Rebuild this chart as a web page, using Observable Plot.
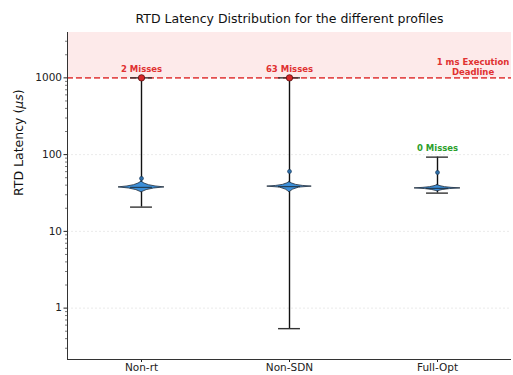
<!DOCTYPE html>
<html>
<head>
<meta charset="utf-8">
<script src="https://cdn.jsdelivr.net/npm/d3@7"></script>
<script src="https://cdn.jsdelivr.net/npm/@observablehq/plot@0.6"></script>
<style>
  html, body { margin: 0; padding: 0; background: white; }
</style>
</head>
<body>
<div id="chart"></div>
<script>
const title = "RTD Latency Distribution for the different profiles";
const yLabel = "RTD Latency (μs)";
const categories = ["Non-rt", "Non-SDN", "Full-Opt"];
const minVals = [20.7, 0.54, 31.5];
const maxVals = [1000, 1000, 92.7];
const meanVals = [49, 60.4, 58.6];
const medianVals = [37.4, 38.3, 36.3];
const misses = [2, 63, 0];
const deadline = 1000;
const deadlineLabel = "1 ms Execution\nDeadline";
const yTicks = [1, 10, 100, 1000];
const yDomain = [0.214, 3900];
const xDomain = [-0.5, 2.5];
// violin profiles: latency values and half-widths (category units)
const violinVals = [
  [44.5, 42, 40, 38.5, 37.4, 36.2, 34.5, 33, 32.2],
  [43.8, 42, 40.3, 39.1, 38.3, 37.2, 35, 33.2, 32.2],
  [40, 38.8, 37.7, 36.9, 36.3, 35.6, 34.6, 33.7, 33.1]
];
const violinWidths = [
  [0, 0.02, 0.05, 0.095, 0.155, 0.085, 0.035, 0.012, 0],
  [0, 0.018, 0.045, 0.09, 0.15, 0.065, 0.025, 0.008, 0],
  [0, 0.02, 0.05, 0.095, 0.155, 0.085, 0.035, 0.012, 0]
];

const capHalf = 0.074;
const idx = categories.map((c, i) => i);
const violinData = idx.flatMap(i => violinVals[i].map((v, j) => ({i, v, w: violinWidths[i][j]})));
const minor = [];
for (let e = -1; e <= 3; e++) for (let m = 2; m <= 9; m++) {
  const v = m * Math.pow(10, e);
  if (v >= yDomain[0] && v <= yDomain[1]) minor.push(v);
}

const red = "#e03131";
const chart = Plot.plot({
  width: 513,
  height: 375,
  marginLeft: 67,
  marginRight: 2,
  marginTop: 32,
  marginBottom: 16,
  style: {fontFamily: "DejaVu Sans", fontSize: "10.5px", color: "#222", background: "white"},
  x: {type: "linear", domain: xDomain},
  y: {type: "log", domain: yDomain},
  marks: [
    Plot.rect([0], {x1: xDomain[0], x2: xDomain[1], y1: deadline, y2: yDomain[1], fill: "#fdeaea"}),
    Plot.ruleY(yTicks, {stroke: "#e4e4e4", strokeWidth: 0.8, strokeDasharray: "2,2"}),
    Plot.ruleY([deadline], {stroke: red, strokeOpacity: 0.85, strokeWidth: 1.6, strokeDasharray: "6,3"}),
    Plot.ruleX(idx, {x: i => i, y1: i => minVals[i], y2: i => maxVals[i], stroke: "#111", strokeWidth: 1.4}),
    Plot.areaX(violinData, {y: "v", x1: d => d.i - d.w, x2: d => d.i + d.w, z: "i", fill: "#3d8fd8", stroke: "#1d2a38", strokeWidth: 0.8, curve: "linear"}),
    Plot.ruleY(idx, {y: i => medianVals[i], x1: i => i - capHalf, x2: i => i + capHalf, stroke: "#1a2a3a", strokeWidth: 1.2, strokeOpacity: 0.8}),
    Plot.ruleY(idx, {y: i => minVals[i], x1: i => i - capHalf, x2: i => i + capHalf, stroke: "#333", strokeWidth: 1.4}),
    Plot.ruleY(idx, {y: i => maxVals[i], x1: i => i - capHalf, x2: i => i + capHalf, stroke: "#333", strokeWidth: 1.4}),
    Plot.dot(idx, {x: i => i, y: i => meanVals[i], r: 2, fill: "#2f6fa8", stroke: "#1d3b5c", strokeWidth: 0.6}),
    Plot.dot(idx.filter(i => maxVals[i] >= deadline), {x: i => i, y: i => maxVals[i], r: 3.2, fill: "#d62728", stroke: "#5a0d0d", strokeWidth: 0.8}),
    Plot.text(idx, {x: i => i, y: i => maxVals[i], text: i => `${misses[i]} Misses`, dy: -9, fontSize: 8.5, fontWeight: "bold",
      fill: i => misses[i] > 0 ? red : "#2ca02c"}),
    Plot.text([deadlineLabel], {x: 2.24, y: deadline, dy: -3, lineAnchor: "bottom", fontSize: 8.5, fontWeight: "bold", fill: red, lineHeight: 1.2}),
    Plot.axisX({ticks: [0, 1, 2], tickFormat: i => categories[i], tickSize: 3, tickPadding: 1.5, label: null, fontSize: 10.5}),
    Plot.axisY({ticks: yTicks, tickFormat: d => String(d), tickSize: 3.5, tickPadding: 2, label: null, fontSize: 10.5}),
    Plot.axisY({ticks: minor, tickSize: 2, tickFormat: () => "", label: null, strokeOpacity: 0.6}),
    Plot.ruleX([xDomain[0]], {stroke: "#333", strokeWidth: 1}),
    Plot.ruleY([yDomain[0]], {stroke: "#333", strokeWidth: 1}),
    Plot.text([title], {frameAnchor: "top", dy: -18, fontSize: 12.5, fill: "#111"}),
    Plot.text([yLabel], {frameAnchor: "left", rotate: -90, dx: -49, fontSize: 12.5, fill: "#111"})
  ]
});

chart.querySelectorAll("text").forEach(t => {
  if (t.textContent === yLabel) {
    t.textContent = "";
    const ns = "http://www.w3.org/2000/svg";
    const a = document.createElementNS(ns, "tspan"); a.textContent = "RTD Latency (";
    const b = document.createElementNS(ns, "tspan"); b.textContent = "μs"; b.setAttribute("font-style", "italic");
    const c = document.createElementNS(ns, "tspan"); c.textContent = ")";
    t.append(a, b, c);
  }
});
document.getElementById("chart").append(chart);
</script>
</body>
</html>
